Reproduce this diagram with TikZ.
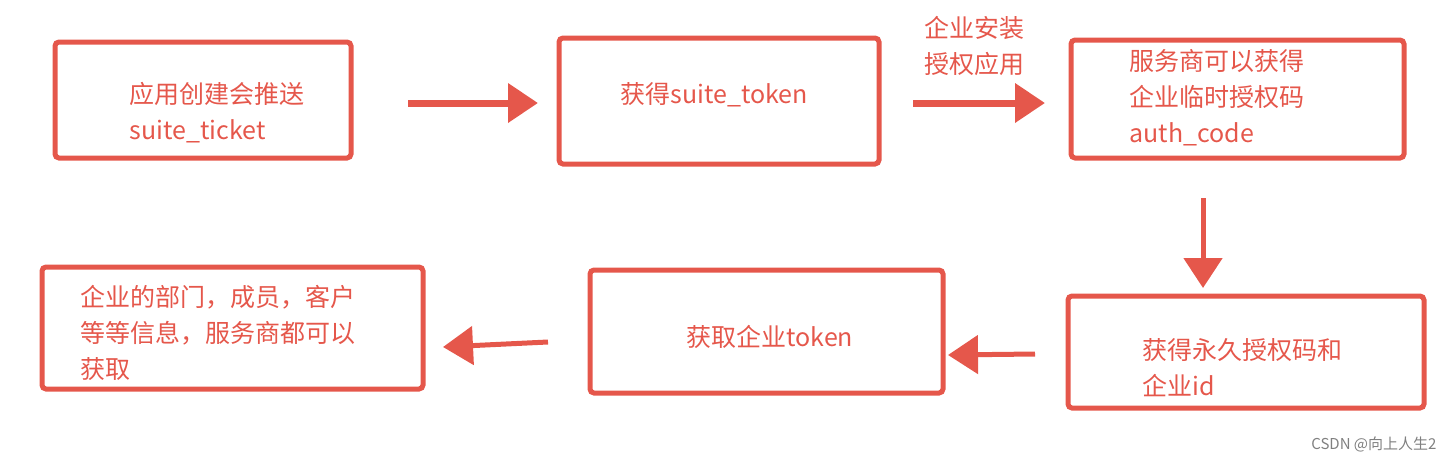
\documentclass[tikz,border=0pt]{standalone}
\usepackage{fontspec}
\setmainfont{Noto Sans CJK SC}
\usetikzlibrary{arrows.meta}
\definecolor{rd}{HTML}{E5574B}
\begin{document}
\begin{tikzpicture}[x=1pt,y=-1pt,
  box/.style={draw=rd,line width=5pt,rounded corners=4pt},
  txt/.style={text=rd,font=\fontsize{25}{36}\selectfont,align=left,anchor=west},
  arr/.style={draw=rd,line width=7pt,-{Triangle[length=30pt,width=38pt]}}]
\useasboundingbox (0,0) rectangle (1452,464);
\draw[box] (55,42) rectangle (351,158);
\draw[box] (559,38) rectangle (879,164);
\draw[box] (1071,40) rectangle (1404,158);
\draw[box] (1068,296) rectangle (1424,408);
\draw[box] (590,270) rectangle (943,393);
\draw[box] (42,267) rectangle (423,389);
\node[txt] (t1) at (126,113) {应用创建会推送\\suite\_ticket};
\node[txt] (t2) at (617,95) {获得suite\_token};
\node[txt] (t3) at (1126,98) {服务商可以获得\\企业临时授权码\\auth\_code};
\node[txt] (t4) at (1139,368) {获得永久授权码和\\企业id};
\node[txt] (t5) at (683,337) {获取企业token};
\node[txt] (t6) at (77,333) {企业的部门，成员，客户\\等等信息，服务商都可以\\获取};
\node[txt] (lb) at (921,46) {企业安装\\授权应用};
\coordinate (a1) at (408,103); \coordinate (b1) at (538,103);
\coordinate (a2) at (913,103); \coordinate (b2) at (1045,103);
\coordinate (a3) at (1203,198); \coordinate (b3) at (1203,288);
\coordinate (a4) at (1035,354); \coordinate (b4) at (948,355);
\coordinate (a5) at (548,342); \coordinate (b5) at (443,347);
\draw[arr] (a1) -- (b1);
\draw[arr] (a2) -- (b2);
\draw[arr,line width=5pt] (a3) -- (b3);
\draw[arr,line width=5pt] (a4) -- (b4);
\draw[arr,line width=5pt] (a5) -- (b5);
\node[text=gray,font=\fontsize{15}{18}\selectfont,anchor=east] (wm) at (1440,444) {CSDN @向上人生2};
\end{tikzpicture}
\end{document}
